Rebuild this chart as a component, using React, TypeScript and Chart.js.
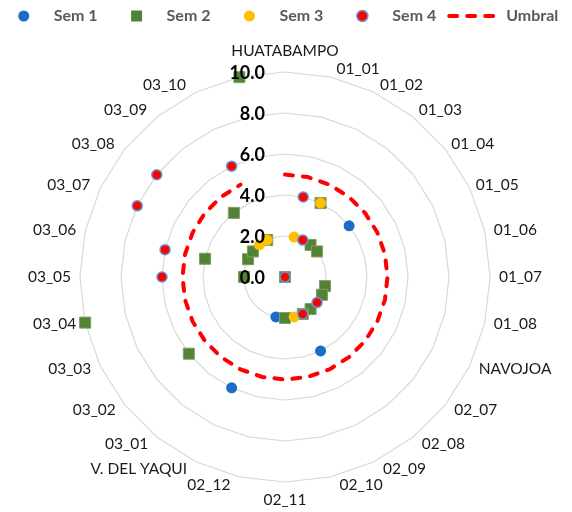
import React, { useEffect, useRef } from 'react';
import { Chart, registerables } from 'chart.js';

Chart.register(...registerables);

const categories = [
  'HUATABAMPO', '01_01', '01_02', '01_03', '01_04', '01_05', '01_06', '01_07', '01_08',
  'NAVOJOA', '02_07', '02_08', '02_09', '02_10', '02_11', '02_12',
  'V. DEL YAQUI', '03_01', '03_02', '03_03', '03_04', '03_05', '03_06', '03_07', '03_08', '03_09', '03_10', '',
];

const sem1 = [null, null, null, null, 4.0, null, null, null, null, null, null, null, 4.0, null,
  null, 2.0, 6.0, null, null, null, null, null, null, null, null, null, null, null];

const sem2 = [0, null, 4.0, 2.0, 2.0, null, null, null, 2.0, 2.0, null, 2.0, 2.0, null,
  2.0, null, null, null, 6.0, null, 10.0, 2.0, 4.0, 2.0, 2.0, 4.0, 2.0, 10.0];

const sem3 = [null, 2.0, 4.0, null, null, null, null, null, null, null, null, null, null, 2.0,
  null, null, null, null, null, null, null, null, null, null, null, 2.0, 2.0, null];

const sem4 = [0, 4.0, 2.0, null, null, null, null, null, null, null, 2.0, null, 2.0, null,
  null, null, null, null, null, null, null, 6.0, 6.0, 8.0, 8.0, null, 6.0, null];

const umbral = [5, 5, 5, 5, 5, 5, 5, 5, 5, 5, 5, 5, 5, 5,
  5, 5, 5, 5, 5, 5, 5, 5, 5, 5, 5, 5, 5, null];

const tickValues = [0, 2, 4, 6, 8, 10];
const tickLabels = ['0.0', '2.0', '4.0', '6.0', '8.0', '10.0'];

const BLUE = '#1B6CC8';
const GREEN = '#548235';
const YELLOW = '#FFC000';
const RED = '#FF0000';
const RED_BORDER = '#5B9BD5';

const overlayPlugin = {
  id: 'overlay',
  afterDraw(chart: any) {
    const ctx = chart.ctx as CanvasRenderingContext2D;
    const scale = chart.scales.r;
    const n = categories.length;
    ctx.save();

    // category labels
    ctx.font = '15.5px Lato';
    ctx.fillStyle = '#1a1a1a';
    ctx.textBaseline = 'middle';
    categories.forEach((lab, i) => {
      if (!lab) return;
      const th = (2 * Math.PI * i) / n;
      const s = Math.sin(th);
      const c = Math.cos(th);
      const p = scale.getPointPosition(i, scale.drawingArea);
      let x: number;
      let y: number;
      if (Math.abs(s) < 0.05) {
        ctx.textAlign = 'center';
        x = p.x;
        y = c > 0 ? p.y - 21 : p.y + 18;
      } else {
        ctx.textAlign = s > 0 ? 'left' : 'right';
        const pad = c > 0.3 ? 6 : 9;
        x = p.x + (s > 0 ? pad : -pad - (c > 0.3 ? 4 : 0));
        y = p.y - c * 8;
      }
      ctx.fillText(lab, x, y);
    });

    // radial tick labels
    ctx.font = 'bold 18px Lato';
    ctx.fillStyle = '#000000';
    ctx.textAlign = 'right';
    tickValues.forEach((v, k) => {
      const d = scale.getDistanceFromCenterForValue(v);
      ctx.fillText(tickLabels[k], scale.xCenter - 20, scale.yCenter - d + 1);
    });

    // legend
    ctx.font = 'bold 16px Lato';
    const ds = chart.data.datasets;
    const items = ds.map((d: any) => ({
      label: d.label as string,
      isLine: d.showLine !== false,
      w: ctx.measureText(d.label).width,
      d,
    }));
    let total = 0;
    items.forEach((it: any, k: number) => {
      if (k > 0) total += it.isLine ? 11 : 29;
      total += (it.isLine ? 59 : 40) + it.w;
    });
    let x0 = 286 - total / 2;
    const ly = 16;
    ctx.textAlign = 'left';
    ctx.textBaseline = 'middle';
    items.forEach((it: any, k: number) => {
      if (k > 0) x0 += it.isLine ? 11 : 29;
      const d = it.d;
      if (it.isLine) {
        ctx.save();
        ctx.strokeStyle = d.borderColor;
        ctx.lineWidth = d.borderWidth;
        ctx.setLineDash(d.borderDash);
        ctx.lineCap = d.borderCapStyle;
        ctx.beginPath();
        ctx.moveTo(x0 + 2, ly);
        ctx.lineTo(x0 + 48, ly);
        ctx.stroke();
        ctx.restore();
        ctx.fillStyle = '#595959';
        ctx.fillText(it.label, x0 + 59, ly);
        x0 += 59 + it.w;
      } else {
        const cx = x0 + 10;
        ctx.save();
        ctx.fillStyle = d.pointBackgroundColor;
        if (d.pointStyle === 'rect') {
          ctx.fillRect(cx - 5.5, ly - 5.5, 11, 11);
        } else {
          ctx.beginPath();
          ctx.arc(cx, ly, 5.5, 0, Math.PI * 2);
          ctx.fill();
          if (d.pointBorderWidth > 0 && d.pointBorderColor !== d.pointBackgroundColor) {
            ctx.lineWidth = d.pointBorderWidth;
            ctx.strokeStyle = d.pointBorderColor;
            ctx.stroke();
          }
        }
        ctx.restore();
        ctx.fillStyle = '#595959';
        ctx.fillText(it.label, x0 + 40, ly);
        x0 += 40 + it.w;
      }
    });

    ctx.restore();
  },
};

export default function App() {
  const ref = useRef<HTMLCanvasElement | null>(null);

  useEffect(() => {
    document.body.style.margin = '0';
    const canvas = ref.current;
    if (!canvas) return;
    const chart = new Chart(canvas, {
      type: 'radar',
      data: {
        labels: categories,
        datasets: [
          {
            label: 'Sem 1', data: sem1, showLine: false, fill: false,
            backgroundColor: 'transparent', borderColor: BLUE,
            pointStyle: 'circle', pointRadius: 5.5, pointBackgroundColor: BLUE,
            pointBorderColor: BLUE, pointBorderWidth: 0, order: 4,
          },
          {
            label: 'Sem 2', data: sem2, showLine: false, fill: false,
            backgroundColor: 'transparent', borderColor: GREEN,
            pointStyle: 'rect', pointRadius: 7.8, pointBackgroundColor: GREEN,
            pointBorderColor: '#7FA062', pointBorderWidth: 1, order: 3,
          },
          {
            label: 'Sem 3', data: sem3, showLine: false, fill: false,
            backgroundColor: 'transparent', borderColor: YELLOW,
            pointStyle: 'circle', pointRadius: 5.5, pointBackgroundColor: YELLOW,
            pointBorderColor: YELLOW, pointBorderWidth: 0, order: 2,
          },
          {
            label: 'Sem 4', data: sem4, showLine: false, fill: false,
            backgroundColor: 'transparent', borderColor: RED,
            pointStyle: 'circle', pointRadius: 5, pointBackgroundColor: RED,
            pointBorderColor: RED_BORDER, pointBorderWidth: 1.5, order: 1,
          },
          {
            label: 'Umbral', data: umbral, showLine: true, fill: false,
            backgroundColor: 'transparent', borderColor: RED, borderWidth: 4,
            borderDash: [8, 10], borderCapStyle: 'round', pointRadius: 0,
            spanGaps: false, order: 5,
          },
        ] as any,
      },
      options: {
        responsive: false,
        animation: false,
        events: [],
        layout: { padding: { left: 80, right: 82, top: 72, bottom: 30 } },
        plugins: { legend: { display: false }, tooltip: { enabled: false } },
        elements: { line: { tension: 0 } },
        scales: {
          r: {
            min: 0,
            max: 10,
            ticks: { display: false, stepSize: 2 },
            grid: { color: '#D9D9D9', lineWidth: 1.2 },
            angleLines: { display: false },
            pointLabels: { display: false },
          },
        },
      } as any,
      plugins: [overlayPlugin],
    });
    return () => chart.destroy();
  }, []);

  return (
    <div style={{ width: 572, height: 512, background: '#ffffff' }}>
      <canvas ref={ref} width={572} height={512} style={{ display: 'block', width: 572, height: 512 }} />
    </div>
  );
}
